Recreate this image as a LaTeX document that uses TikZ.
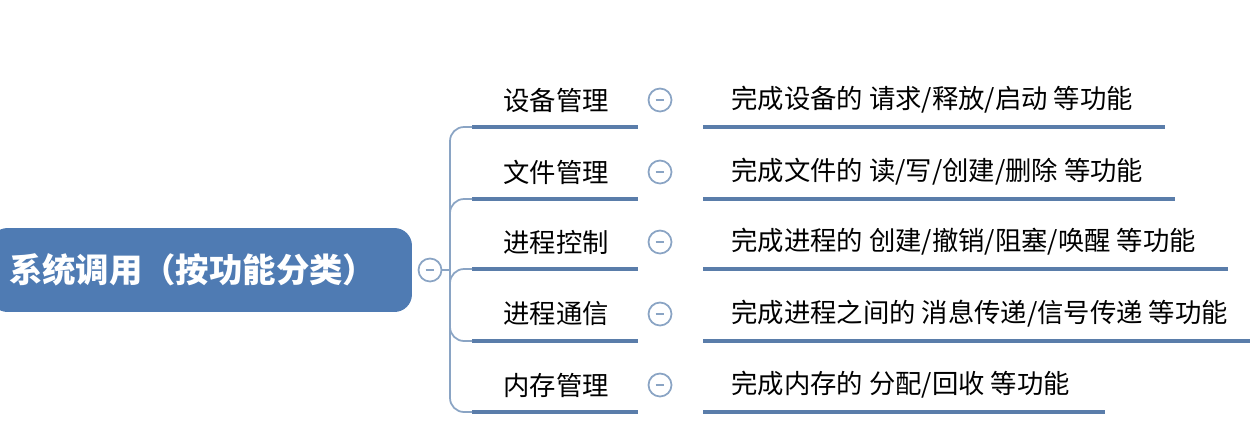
\documentclass[tikz,border=0pt]{standalone}
\usepackage{fontspec}
\setmainfont{Noto Sans CJK SC}
\usetikzlibrary{positioning}
\definecolor{rootblue}{HTML}{4F7BB3}
\definecolor{lineblue}{HTML}{5A7DAA}
\definecolor{branchblue}{HTML}{8AA4C4}
\tikzset{
  root/.style={fill=rootblue, rectangle, rounded corners=10pt, text=white,
    minimum width=8.44cm, minimum height=1.68cm, text width=8.2cm, align=left,
    font=\fontsize{19}{22}\selectfont\bfseries},
  txt/.style={inner sep=0pt, anchor=west, font=\fontsize{15}{17}\selectfont},
  fold/.style={draw=branchblue, circle, line width=1pt, minimum size=0.46cm, inner sep=0pt,
    path picture={\draw[branchblue, line width=1pt] ([xshift=-2.5pt]path picture bounding box.center) -- ([xshift=2.5pt]path picture bounding box.center);}},
  uline/.style={draw=lineblue, line width=2.2pt},
  branch/.style={draw=branchblue, line width=1pt, rounded corners=8pt}
}
\begin{document}
\begin{tikzpicture}[x=0.02cm, y=-0.02cm]
    \useasboundingbox (0,0) rectangle (1250,430);
    \node [root] (sys) at (201,270) {\hspace*{0.26cm}系统调用（按功能分类）};
    \node [fold] (c0) at (430,270) {};
    \coordinate (hub) at (450,270);
    \draw [branch, rounded corners=0pt] (c0) -- (hub);

    \foreach \i/\y/\name/\desc/\ends in {
        1/100/设备管理/{完成设备的 请求/释放/启动 等功能}/1165,
        2/172/文件管理/{完成文件的 读/写/创建/删除 等功能}/1175,
        3/242/进程控制/{完成进程的 创建/撤销/阻塞/唤醒 等功能}/1228,
        4/314/进程通信/{完成进程之间的 消息传递/信号传递 等功能}/1250,
        5/385/内存管理/{完成内存的 分配/回收 等功能}/1105} {
        \node [txt] (k\i) at (503,\y) {\name};
        \node [fold] (f\i) at (660,\y) {};
        \node [txt] (d\i) at (731,\y) {\desc};
        \coordinate (la\i) at (472,\y+27);
        \coordinate (lb\i) at (638,\y+27);
        \coordinate (ra\i) at (703,\y+27);
        \coordinate (rb\i) at (\ends,\y+27);
        \draw [uline] (la\i) -- (lb\i);
        \draw [uline] (ra\i) -- (rb\i);
        \draw [branch] (hub) |- (la\i);
    }
\end{tikzpicture}
\end{document}
